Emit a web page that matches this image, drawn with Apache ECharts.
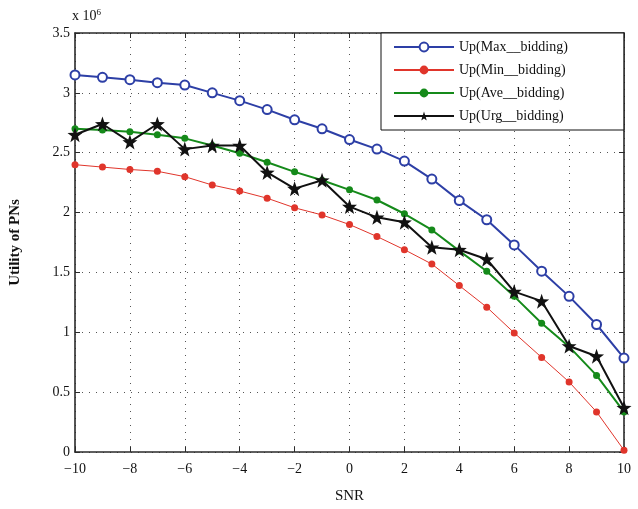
<!DOCTYPE html>
<html>
<head>
<meta charset="utf-8">
<script src="https://cdn.jsdelivr.net/npm/echarts@6/dist/echarts.min.js"></script>
<style>
  html, body { margin: 0; padding: 0; background: #fff; }
  #chart { width: 638px; height: 509px; }
</style>
</head>
<body>
<div id="chart"></div>
<script>
// SNR values on x axis
var snr = [-10, -9, -8, -7, -6, -5, -4, -3, -2, -1, 0, 1, 2, 3, 4, 5, 6, 7, 8, 9, 10];
// utility, in units of 10^6
var upMax = [3.15, 3.13, 3.11, 3.085, 3.065, 3.0, 2.935, 2.86, 2.775, 2.70, 2.61, 2.53, 2.43, 2.28, 2.10, 1.94, 1.73, 1.51, 1.30, 1.065, 0.785];
var upMin = [2.40, 2.38, 2.36, 2.345, 2.30, 2.23, 2.18, 2.12, 2.04, 1.98, 1.90, 1.80, 1.69, 1.57, 1.39, 1.21, 0.995, 0.79, 0.585, 0.335, 0.015];
var upAve = [2.70, 2.69, 2.675, 2.65, 2.62, 2.56, 2.495, 2.42, 2.34, 2.27, 2.19, 2.105, 1.99, 1.855, 1.68, 1.51, 1.30, 1.075, 0.88, 0.64, 0.335];
var upUrg = [2.65, 2.74, 2.59, 2.74, 2.53, 2.56, 2.56, 2.335, 2.20, 2.27, 2.05, 1.96, 1.92, 1.71, 1.69, 1.61, 1.34, 1.26, 0.885, 0.80, 0.37];
var seriesNames = ['Up(Max__bidding)', 'Up(Min__bidding)', 'Up(Ave__bidding)', 'Up(Urg__bidding)'];

function pairs(ys) {
    return snr.map(function (x, i) { return [x, ys[i]]; });
}

var starPath = 'path://M0,-10L2.35,-3.24L9.51,-3.09L3.8,1.24L5.88,8.09L0,4L-5.88,8.09L-3.8,1.24L-9.51,-3.09L-2.35,-3.24Z';
var serif = '"Liberation Serif", "DejaVu Serif", serif';
var frame = '#2a2a2a';

var myChart = echarts.init(document.getElementById('chart'));

var gridLine = { show: true, lineStyle: { color: '#555', type: [1, 6], width: 1 } };
var tickIn = { show: true, inside: true, length: 5, lineStyle: { color: frame } };
var frameLine = { show: true, onZero: false, lineStyle: { color: frame, width: 1.6 } };

var option = {
    animation: false,
    textStyle: { fontFamily: serif },
    grid: { left: 70, right: 14, top: 33, bottom: 52 },
    graphic: [{
        type: 'text',
        left: 72,
        top: 8,
        style: {
            text: 'x 10{s|6}',
            font: '14px ' + serif,
            fill: '#111',
            rich: { s: { fontSize: 9, verticalAlign: 'top', padding: [0, 0, 8, 0], fontFamily: serif } }
        }
    }],
    legend: {
        data: seriesNames,
        orient: 'vertical',
        left: 381,
        top: 33,
        itemWidth: 60,
        itemHeight: 11,
        itemGap: 9,
        padding: [7, 56, 7, 12],
        backgroundColor: '#fff',
        borderColor: '#111',
        borderWidth: 1,
        textStyle: { fontFamily: serif, fontSize: 14, color: '#111' }
    },
    xAxis: [{
        type: 'value',
        min: -10, max: 10, interval: 2,
        name: 'SNR',
        nameLocation: 'middle',
        nameGap: 37,
        nameTextStyle: { fontFamily: serif, fontSize: 15, color: '#111' },
        axisLine: frameLine,
        axisTick: tickIn,
        axisLabel: {
            color: '#111', fontSize: 14, fontFamily: serif, margin: 10,
            formatter: function (v) { return v < 0 ? '\u2212' + (-v) : String(v); }
        },
        splitLine: gridLine
    }, {
        type: 'value', position: 'top',
        min: -10, max: 10, interval: 2,
        axisLine: frameLine,
        axisTick: tickIn,
        axisLabel: { show: false },
        splitLine: { show: false }
    }],
    yAxis: [{
        type: 'value',
        min: 0, max: 3.5, interval: 0.5,
        name: 'Utility of PNs',
        nameLocation: 'middle',
        nameGap: 52,
        nameTextStyle: { fontFamily: serif, fontSize: 15, fontWeight: 'bold', color: '#111' },
        axisLine: frameLine,
        axisTick: tickIn,
        axisLabel: { color: '#111', fontSize: 14, fontFamily: serif, margin: 5 },
        splitLine: gridLine
    }, {
        type: 'value', position: 'right',
        min: 0, max: 3.5, interval: 0.5,
        axisLine: frameLine,
        axisTick: tickIn,
        axisLabel: { show: false },
        splitLine: { show: false }
    }],
    series: [{
        name: seriesNames[0],
        type: 'line',
        data: pairs(upMax),
        symbol: 'emptyCircle',
        symbolSize: 9,
        lineStyle: { color: '#2d3fa6', width: 2 },
        itemStyle: { color: '#2d3fa6', borderWidth: 2 },
        z: 2
    }, {
        name: seriesNames[1],
        type: 'line',
        data: pairs(upMin),
        symbol: 'circle',
        symbolSize: 7,
        lineStyle: { color: '#e0352b', width: 1 },
        itemStyle: { color: '#e0352b' },
        z: 3
    }, {
        name: seriesNames[2],
        type: 'line',
        data: pairs(upAve),
        symbol: 'circle',
        symbolSize: 7,
        lineStyle: { color: '#158a1a', width: 2 },
        itemStyle: { color: '#158a1a' },
        z: 4
    }, {
        name: seriesNames[3],
        type: 'line',
        data: pairs(upUrg),
        symbol: starPath,
        symbolSize: 15,
        lineStyle: { color: '#111', width: 2 },
        itemStyle: { color: '#111' },
        z: 5
    }]
};

option && myChart.setOption(option);
</script>
</body>
</html>
